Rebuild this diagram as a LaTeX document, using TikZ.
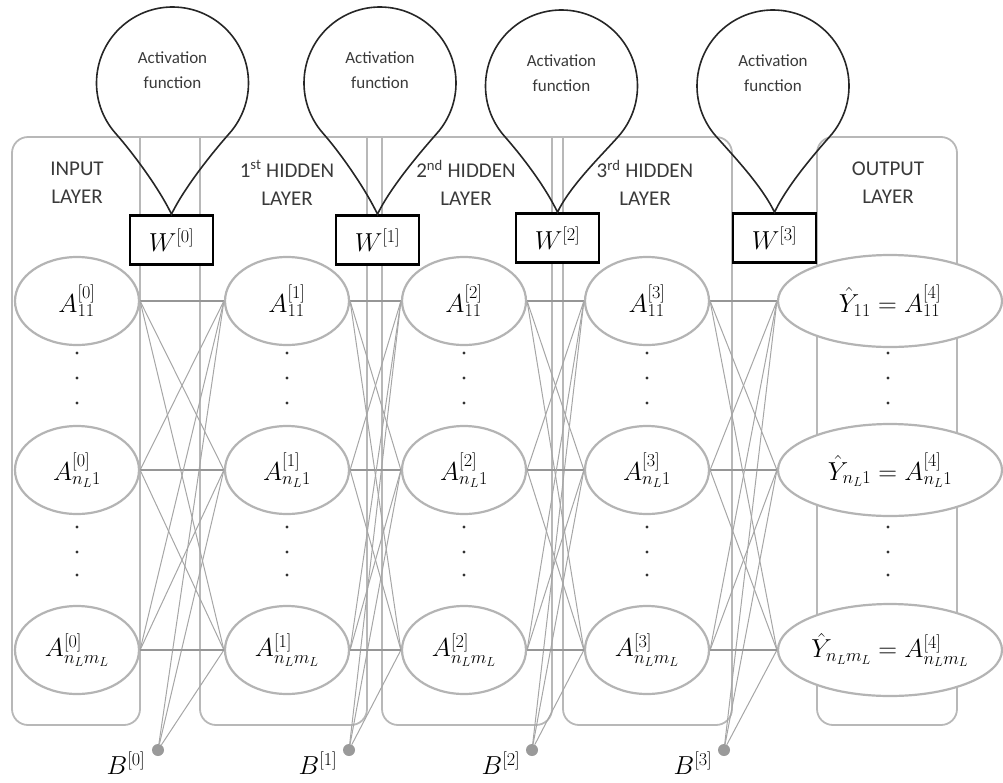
\RequirePackage{fix-cm}
\documentclass[tikz,border=0pt]{standalone}
\usepackage[no-math]{fontspec}
\newfontfamily\carlito{Carlito}
\usetikzlibrary{shapes.geometric}
\definecolor{ellgray}{HTML}{B4B4B4}
\definecolor{boxgray}{HTML}{B8B8B8}
\definecolor{linegray}{HTML}{A6A6A6}
\definecolor{hgray}{HTML}{969696}
\definecolor{dotgray}{HTML}{9A9A9A}
\definecolor{txtgray}{HTML}{3A3A3A}
\newcommand\mfont{\fontsize{26}{29}\selectfont}
\newcommand\actballoon[3]{% name, centre, tip node anchor
  \coordinate (#1-c) at #2;
  \coordinate (#1-t) at (#3);
  \draw[balloonline] ([shift={(138.5:76)}]#1-c) arc[start angle=138.5, end angle=401.5, radius=76]
    .. controls +(-16.5,18.7) and +(13,-27) .. (#1-t)
    .. controls +(-13,-27) and +(16.5,18.7) .. ([shift={(138.5:76)}]#1-c);
  \node[acttext] (#1-txt) at ([shift={(0,-13)}]#1-c) {Activation\\function};
}
\begin{document}
\begin{tikzpicture}[x=1pt,y=-1pt,
  neuron/.style={ellipse, draw=ellgray, line width=2.2pt, fill=white, minimum width=124pt, minimum height=88pt, inner sep=0pt, font=\mfont},
  outneuron/.style={neuron, minimum width=224pt, minimum height=92pt},
  wbox/.style={draw=black, line width=2.6pt, fill=white, minimum width=83pt, minimum height=49pt, inner sep=0pt, font=\mfont},
  conn/.style={draw=linegray, line width=1pt},
  hconn/.style={draw=hgray, line width=2pt},
  layerbox/.style={draw=boxgray, line width=1.8pt, rounded corners=16pt},
  balloonline/.style={draw=black!85, line width=1.6pt},
  acttext/.style={align=center, font=\carlito\fontsize{17}{25}\selectfont, text=txtgray},
  layertext/.style={align=center, font=\carlito\fontsize{21}{28}\selectfont, text=txtgray},
  biasdot/.style={circle, fill=dotgray, inner sep=0pt, minimum size=12pt},
  biaslabel/.style={font=\mfont, inner sep=0pt}
]
\useasboundingbox (0,0) rectangle (1003,782);
% layer boxes
\draw[layerbox] (140,137) -- (12,137) -- (12,725) -- (140,725) -- (140,137);
\draw[layerbox] (200,137) -- (200,725) -- (367,725) -- (367,137);
\draw[layerbox] (382,137) -- (382,725) -- (552,725) -- (552,137);
\draw[layerbox] (563,137) -- (563,725) -- (732,725) -- (732,137) -- (680,137);
\draw[layerbox] (140,137) -- (700,137);
\draw[layerbox] (817,137) rectangle (957,725);
% layer labels
\node[layertext] (lin) at (77,183) {INPUT\\LAYER};
\node[layertext] (lh1) at (287,183) {1\textsuperscript{st} HIDDEN\\LAYER};
\node[layertext] (lh2) at (466,183) {2\textsuperscript{nd} HIDDEN\\LAYER};
\node[layertext] (lh3) at (645,183) {3\textsuperscript{rd} HIDDEN\\LAYER};
\node[layertext] (lout) at (888,183) {OUTPUT\\LAYER};
% neurons
\foreach \l/\x in {0/77,1/287,2/464,3/647}{
  \node[neuron] (a\l-1) at (\x,301) {$A^{[\l]}_{11}$};
  \node[neuron] (a\l-2) at (\x,470) {$A^{[\l]}_{n_L1}$};
  \node[neuron] (a\l-3) at (\x,650) {$A^{[\l]}_{n_Lm_L}$};
}
\node[outneuron] (a4-1) at (890,301) {$\hat{Y}_{11} = A^{[4]}_{11}$};
\node[outneuron] (a4-2) at (890,470) {$\hat{Y}_{n_L1} = A^{[4]}_{n_L1}$};
\node[outneuron] (a4-3) at (890,650) {$\hat{Y}_{n_Lm_L} = A^{[4]}_{n_Lm_L}$};
% vertical dots
\foreach \x in {77,287,464,647,888}
  \foreach \y in {353,378,403,527,552,575}
    \fill[black!80] (\x,\y) circle[radius=1.6pt];
% bias dots
\node[biasdot] (b0) at (158,750) {};
\node[biasdot] (b1) at (349,750) {};
\node[biasdot] (b2) at (532,750) {};
\node[biasdot] (b3) at (724,750) {};
\node[biaslabel] (bl0) at (126,763) {$B^{[0]}$};
\node[biaslabel] (bl1) at (318,763) {$B^{[1]}$};
\node[biaslabel] (bl2) at (501,763) {$B^{[2]}$};
\node[biaslabel] (bl3) at (693,763) {$B^{[3]}$};
% connectors
\foreach \l/\n in {0/1,1/2,2/3,3/4}{
  \foreach \i in {1,2,3}{
    \draw[conn] (b\l) -- (a\n-\i.west);
    \foreach \j in {1,2,3}{
      \ifnum\i=\j
        \draw[hconn] (a\l-\i.east) -- (a\n-\j.west);
      \else
        \draw[conn] (a\l-\i.east) -- (a\n-\j.west);
      \fi
    }
  }
}
% weight boxes
\node[wbox] (w0) at (171.5,240) {$W^{[0]}$};
\node[wbox] (w1) at (377.5,240) {$W^{[1]}$};
\node[wbox] (w2) at (557.5,238) {$W^{[2]}$};
\node[wbox] (w3) at (774.5,238) {$W^{[3]}$};
% activation balloons
\actballoon{f0}{(172.5,83)}{w0.north}
\actballoon{f1}{(380,83)}{w1.north}
\actballoon{f2}{(561.5,86)}{w2.north}
\actballoon{f3}{(773,86)}{w3.north}
\end{tikzpicture}
\end{document}
